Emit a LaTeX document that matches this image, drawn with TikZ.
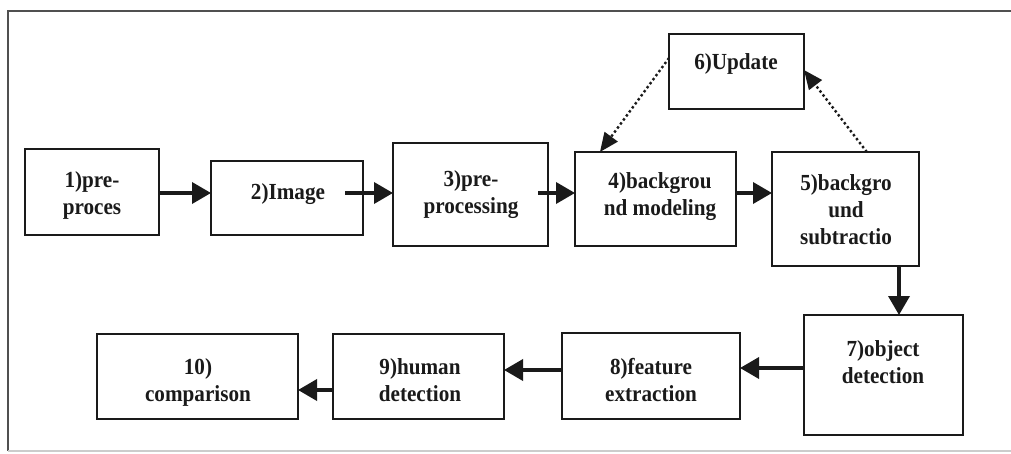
\documentclass[tikz,border=0pt]{standalone}
\usepackage{fontspec}
\setmainfont{Liberation Serif}[FakeStretch=0.92]
\usetikzlibrary{arrows.meta,calc}
\definecolor{ink}{HTML}{1A1A1A}
\definecolor{frame}{HTML}{505050}
\begin{document}
\begin{tikzpicture}[x=1pt,y=-1pt,
  box/.style={draw=ink,line width=1.6pt,inner sep=0pt,outer sep=0pt},
  txt/.style={text=ink,font=\bfseries\fontsize{23}{27}\selectfont,align=center,inner sep=0pt},
  arr/.style={draw=ink,line width=3.6pt,-{Triangle[length=19pt,width=21pt]}},
  darr/.style={draw=ink,line width=2.4pt,dash pattern=on 2.4pt off 2.6pt,-{Triangle[length=19pt,width=16pt]}}]
\useasboundingbox (0,0) rectangle (1011,454);
\fill[white] (0,0) rectangle (1011,454);
% frame
\draw[frame,line width=2pt] (1012,11) -- (8,11) -- (8,451);
\draw[gray!40,line width=2pt] (8,451) -- (1012,451);
% boxes
\node[box,minimum width=134pt,minimum height=86pt] (b1) at (92,192) {};
\node[box,minimum width=152pt,minimum height=74pt] (b2) at (287,198) {};
\node[box,minimum width=155pt,minimum height=103pt] (b3) at (470.5,194.5) {};
\node[box,minimum width=161pt,minimum height=94pt] (b4) at (655.5,199) {};
\node[box,minimum width=147pt,minimum height=114pt] (b5) at (845.5,209) {};
\node[box,minimum width=135pt,minimum height=75pt] (b6) at (736.5,71.5) {};
\node[box,minimum width=159pt,minimum height=120pt] (b7) at (883.5,375) {};
\node[box,minimum width=178pt,minimum height=86pt] (b8) at (651,376) {};
\node[box,minimum width=171pt,minimum height=85pt] (b9) at (418.5,376.5) {};
\node[box,minimum width=201pt,minimum height=85pt] (b10) at (197.5,376.5) {};
% texts
\node[txt] (t1) at (92,195) {1)pre-\\proces};
\node[txt] (t2) at (288,194) {2)Image};
\node[txt] (t3) at (471,195) {3)pre-\\processing};
\node[txt] (t4) at (660,197) {4)backgrou\\nd modeling};
\node[txt] (t5) at (846,210) {5)backgro\\und\\subtractio};
\node[txt] (t6) at (736,64) {6)Update};
\node[txt] (t7) at (883,362) {7)object\\detection};
\node[txt] (t8) at (651,380) {8)feature\\extraction};
\node[txt] (t9) at (420,380) {9)human\\detection};
\node[txt] (t10) at (198,382) {10)\\comparison};
% helper coordinates
\coordinate (r) at (0,193);
\coordinate (c57) at (899,0);
\coordinate (r78) at (0,368);
\coordinate (r89) at (0,370);
\coordinate (r910) at (0,390);
% arrows top row
\draw[arr] (b1.east |- r) -- (b2.west |- r);
\draw[arr] ($(b2.east |- r)+(-18,0)$) -- (b3.west |- r);
\draw[arr] ($(b3.east |- r)+(-10,0)$) -- (b4.west |- r);
\draw[arr] (b4.east |- r) -- (b5.west |- r);
% dotted feedback
\draw[darr] ($(b6.north west)!0.32!(b6.south west)$) -- ($(b4.north west)!0.155!(b4.north east)$);
\draw[darr] ($(b5.north west)!0.645!(b5.north east)$) -- ($(b6.north east)!0.48!(b6.south east)$);
% down and bottom row
\draw[arr] (b5.south -| c57) -- (b7.north -| c57);
\draw[arr] (b7.west |- r78) -- (b8.east |- r78);
\draw[arr] (b8.west |- r89) -- (b9.east |- r89);
\draw[arr] (b9.west |- r910) -- (b10.east |- r910);
\end{tikzpicture}
\end{document}
